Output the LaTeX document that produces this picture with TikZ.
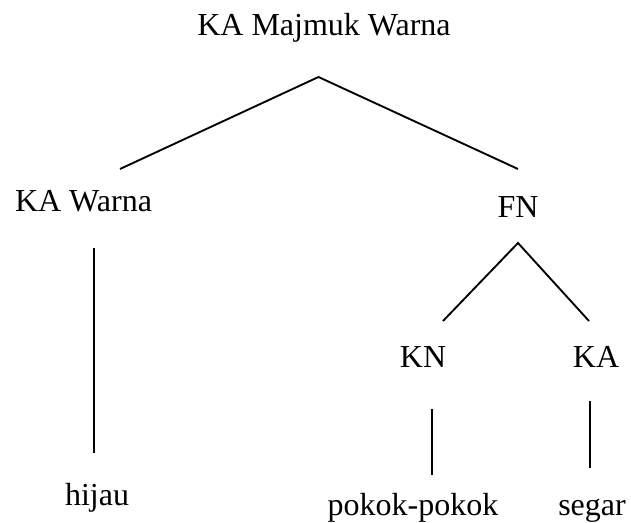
\documentclass[tikz,border=0pt]{standalone}
\usepackage{fontspec}
\setmainfont{Liberation Serif}
\begin{document}
\begin{tikzpicture}[x=0.75pt,y=-0.75pt,
  lbl/.style={anchor=base,inner sep=0pt,font=\fontsize{24}{28}\selectfont},
  edge/.style={line width=1.4pt,line cap=butt}]
\useasboundingbox (0,0) rectangle (631,523);
% labels
\node[lbl] (top)   at (324,36)  {KA Majmuk Warna};
\node[lbl] (kaw)   at (83.5,212) {KA Warna};
\node[lbl] (fn)    at (518,218) {FN};
\node[lbl] (kn)    at (423,368) {KN};
\node[lbl] (ka)    at (596,368) {KA};
\node[lbl] (hijau) at (97,505)  {hijau};
\node[lbl] (pokok) at (413,515) {pokok-pokok};
\node[lbl] (segar) at (592,515) {segar};
% connector ends
\coordinate (a0) at (318.5,77);
\coordinate (a1) at (120,169);
\coordinate (a2) at (518,169);
\coordinate (b0) at (94,248);
\coordinate (b1) at (94,453);
\coordinate (c0) at (518,243);
\coordinate (c1) at (443,321);
\coordinate (c2) at (589,321);
\coordinate (d0) at (432,409);
\coordinate (d1) at (432,475);
\coordinate (e0) at (590,401);
\coordinate (e1) at (590,468);
% connectors
\draw[edge] (a1) -- (a0) -- (a2);
\draw[edge] (b0) -- (b1);
\draw[edge] (c1) -- (c0) -- (c2);
\draw[edge] (d0) -- (d1);
\draw[edge] (e0) -- (e1);
\end{tikzpicture}
\end{document}
